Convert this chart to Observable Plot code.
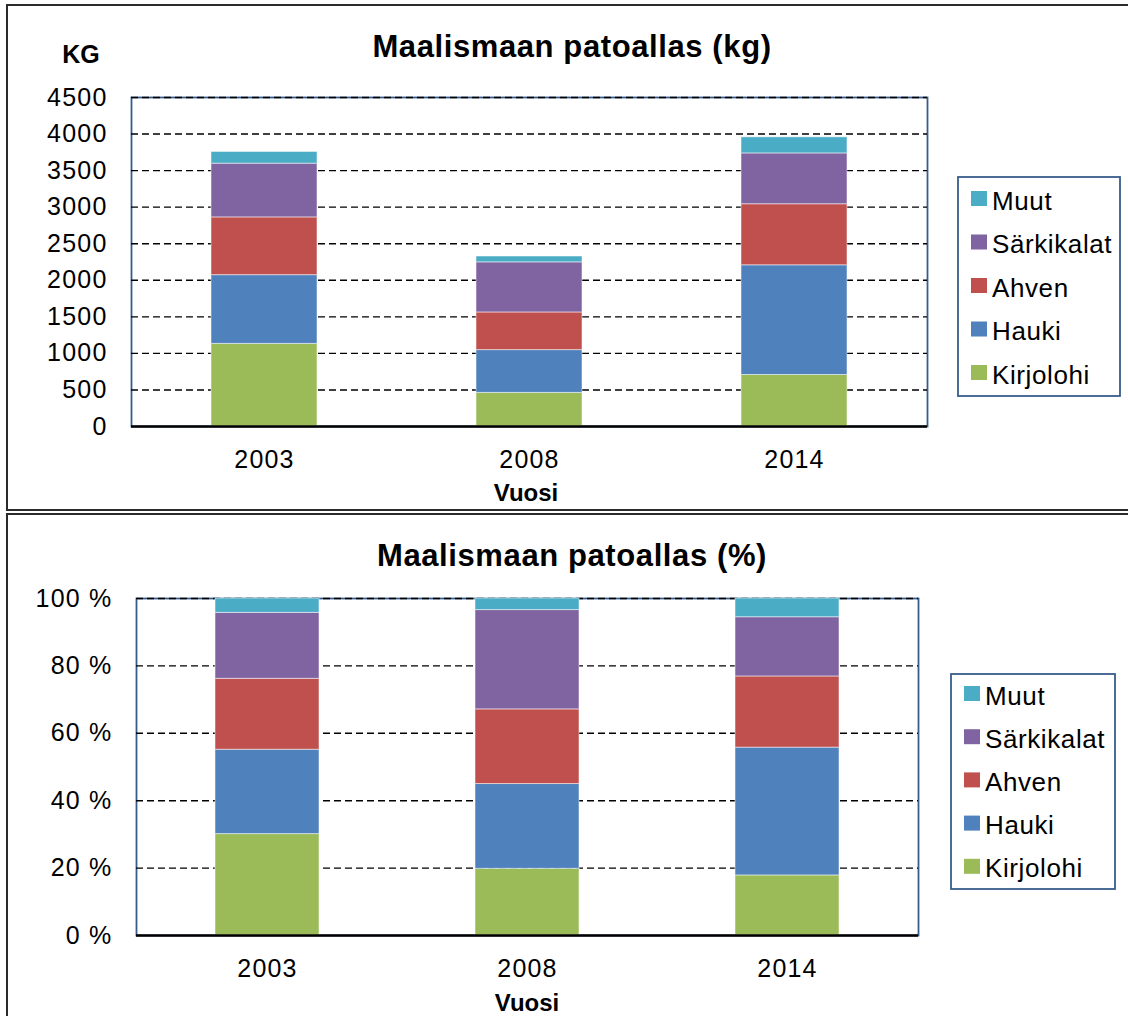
<!DOCTYPE html>
<html>
<head>
<meta charset="utf-8">
<script src="https://cdn.jsdelivr.net/npm/d3@7"></script>
<script src="https://cdn.jsdelivr.net/npm/@observablehq/plot@0.6"></script>
<style>
  html, body { margin: 0; padding: 0; background: #fff; overflow: hidden; }
  #page { position: relative; width: 1128px; height: 1016px; overflow: hidden; background: #fff; }
  .panel { position: absolute; box-sizing: border-box; border: 2px solid #2b2b2b; left: 6px; width: 1200px; }
  .chart { position: absolute; left: 0; }
  #overlay { position: absolute; left: 0; top: 0; }
</style>
</head>
<body>
<div id="page">
  <div class="panel" style="top:4px;height:507px;"></div>
  <div class="panel" style="top:513px;height:600px;"></div>
  <div id="top" class="chart" style="top:0px;"></div>
  <div id="bottom" class="chart" style="top:510px;"></div>
  <svg id="overlay" width="1128" height="1016"></svg>
</div>
<script>
// ---- data ----
const years = ["2003", "2008", "2014"];
const species = ["Kirjolohi", "Hauki", "Ahven", "Särkikalat", "Muut"];
const colors = ["#9BBB59", "#4F81BD", "#C0504D", "#8064A2", "#4BACC6"];
const kirjolohi = [1130, 460, 705];
const hauki = [940, 585, 1500];
const ahven = [790, 515, 835];
const sarkikalat = [735, 685, 695];
const muut = [160, 80, 220];
const kgTicks = [0, 500, 1000, 1500, 2000, 2500, 3000, 3500, 4000, 4500];
const pctTicks = [0, 0.2, 0.4, 0.6, 0.8, 1];
const titleKg = "Maalismaan patoallas (kg)";
const titlePct = "Maalismaan patoallas (%)";
const yLabelKg = "KG";
const xLabel = "Vuosi";

const series = [kirjolohi, hauki, ahven, sarkikalat, muut];
const data = years.flatMap((yr, i) => species.map((s, j) => ({year: yr, species: s, kg: series[j][i]})));

const font = "'Liberation Sans', Arial, sans-serif";
const baseStyle = {fontFamily: font, fontSize: "25px", color: "#000", background: "transparent", letterSpacing: "1.2px", overflow: "visible"};

function chart({height, mt, mb, ml, mr, yDomain, ticks, fmt, offset}) {
  return Plot.plot({
    width: 1128, height,
    marginTop: mt, marginBottom: mb, marginLeft: ml, marginRight: mr,
    style: baseStyle,
    x: {domain: years, paddingInner: 0.6, paddingOuter: 0.3, label: null, tickSize: 0, tickPadding: 24},
    y: {domain: yDomain, ticks, tickFormat: fmt, label: null, tickSize: 0, tickPadding: 24},
    color: {domain: species, range: colors},
    marks: [
      Plot.frame({stroke: "#385D8A", strokeWidth: 1.8}),
      Plot.ruleY(ticks.filter(d => d > 0), {stroke: "#000", strokeDasharray: "7,4", strokeWidth: 1.4}),
      Plot.barY(data, Plot.stackY({x: "year", y: "kg", fill: "species", z: "species", order: species, offset,
        stroke: "#fff", strokeOpacity: 0.5, strokeWidth: 1})),
      Plot.ruleY([0], {stroke: "#000", strokeWidth: 2.6})
    ]
  });
}

document.getElementById("top").append(chart({
  height: 510, mt: 97, mb: 84, ml: 131, mr: 201,
  yDomain: [0, 4500], ticks: kgTicks, fmt: d => String(d), offset: null
}));
document.getElementById("bottom").append(chart({
  height: 506, mt: 88, mb: 81, ml: 136, mr: 210,
  yDomain: [0, 1], ticks: pctTicks, fmt: d => `${Math.round(d * 100)} %`, offset: "normalize"
}));

// ---- overlay texts & legends ----
const svg = d3.select("#overlay").style("font-family", font);
function txt(x, y, s, size, weight, anchor = "middle", ls = "0px") {
  svg.append("text").attr("x", x).attr("y", y).attr("text-anchor", anchor)
    .attr("font-size", size).attr("font-weight", weight).attr("letter-spacing", ls)
    .attr("fill", "#000").text(s);
}
txt(572, 57, titleKg, 31, "bold", "middle", "0.6px");
txt(81, 63, yLabelKg, 25, "bold");
txt(526, 501, xLabel, 24, "bold", "middle", "0px");
txt(572, 566, titlePct, 31, "bold", "middle", "0.6px");
txt(527, 1011, xLabel, 24, "bold", "middle", "0px");

function legend(bx, by, bw, bh, sx, tx, baselines) {
  svg.append("rect").attr("x", bx).attr("y", by).attr("width", bw).attr("height", bh)
    .attr("fill", "#fff").attr("stroke", "#385D8A").attr("stroke-width", 1.8);
  const order = species.slice().reverse();
  order.forEach((s, i) => {
    const b = baselines[0] + i * baselines[1];
    svg.append("rect").attr("x", sx).attr("y", b - 18.5).attr("width", 16).attr("height", 15)
      .attr("fill", colors[species.indexOf(s)]);
    txt(tx, b, s, 26, "normal", "start", "0.6px");
  });
}
legend(958, 177, 162, 219, 971, 992, [209.5, 43.5]);
legend(951, 674, 164, 215, 964, 985, [704.5, 43.2]);
</script>
</body>
</html>
